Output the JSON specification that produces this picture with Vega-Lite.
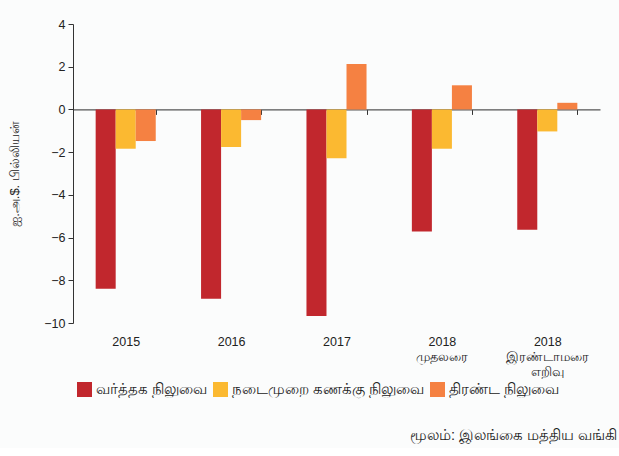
{
  "$schema": "https://vega.github.io/schema/vega-lite/v6.json",
  "width": 527,
  "height": 299,
  "padding": {"left": 8, "top": 18, "right": 5, "bottom": 5},
  "background": "#fbfcfc",
  "config": {
    "font": "Liberation Sans",
    "view": {"stroke": null}
  },
  "title": {
    "text": "மூலம்: இலங்கை மத்திய வங்கி",
    "orient": "bottom",
    "anchor": "end",
    "fontSize": 14.5,
    "fontWeight": "normal",
    "color": "#222222",
    "offset": 32,
    "dx": 17
  },
  "data": {
    "values": [
      {"period": "2015", "series": "வர்த்தக நிலுவை", "value": -8.40},
      {"period": "2015", "series": "நடைமுறை கணக்கு நிலுவை", "value": -1.84},
      {"period": "2015", "series": "திரண்ட நிலுவை", "value": -1.48},
      {"period": "2016", "series": "வர்த்தக நிலுவை", "value": -8.86},
      {"period": "2016", "series": "நடைமுறை கணக்கு நிலுவை", "value": -1.76},
      {"period": "2016", "series": "திரண்ட நிலுவை", "value": -0.50},
      {"period": "2017", "series": "வர்த்தக நிலுவை", "value": -9.67},
      {"period": "2017", "series": "நடைமுறை கணக்கு நிலுவை", "value": -2.29},
      {"period": "2017", "series": "திரண்ட நிலுவை", "value": 2.13},
      {"period": "2018 முதலரை", "series": "வர்த்தக நிலுவை", "value": -5.71},
      {"period": "2018 முதலரை", "series": "நடைமுறை கணக்கு நிலுவை", "value": -1.84},
      {"period": "2018 முதலரை", "series": "திரண்ட நிலுவை", "value": 1.13},
      {"period": "2018 இரண்டாமரை எறிவு", "series": "வர்த்தக நிலுவை", "value": -5.63},
      {"period": "2018 இரண்டாமரை எறிவு", "series": "நடைமுறை கணக்கு நிலுவை", "value": -1.03},
      {"period": "2018 இரண்டாமரை எறிவு", "series": "திரண்ட நிலுவை", "value": 0.31}
    ]
  },
  "mark": {"type": "bar"},
  "encoding": {
    "x": {
      "field": "period",
      "type": "nominal",
      "sort": null,
      "title": null,
      "scale": {"paddingInner": 0.43, "paddingOuter": 0.215},
      "axis": {
        "offset": -213.6,
        "domainColor": "#555555",
        "domainWidth": 1.2,
        "tickColor": "#333333",
        "tickSize": 5,
        "tickBand": "extent",
        "labelPadding": 221,
        "labelAngle": 0,
        "labelFontSize": 12.5,
        "labelColor": "#222222",
        "labelBaseline": "top",
        "labelExpr": "split(datum.label, ' ')",
        "labelLineHeight": 15
      }
    },
    "xOffset": {
      "field": "series",
      "type": "nominal",
      "sort": ["வர்த்தக நிலுவை", "நடைமுறை கணக்கு நிலுவை", "திரண்ட நிலுவை"],
      "scale": {"paddingInner": 0, "paddingOuter": 0}
    },
    "y": {
      "field": "value",
      "type": "quantitative",
      "scale": {"domain": [-10, 4], "nice": false, "zero": false},
      "axis": {
        "values": [-10, -8, -6, -4, -2, 0, 2, 4],
        "grid": false,
        "domainColor": "#333333",
        "tickColor": "#333333",
        "tickSize": 5,
        "labelFontSize": 12.5,
        "labelColor": "#222222",
        "labelPadding": 3,
        "title": "ஐ.அ.$. பில்லியன்",
        "titleFontSize": 13,
        "titleFontWeight": "normal",
        "titleColor": "#222222",
        "titlePadding": 22
      }
    },
    "color": {
      "field": "series",
      "type": "nominal",
      "sort": ["வர்த்தக நிலுவை", "நடைமுறை கணக்கு நிலுவை", "திரண்ட நிலுவை"],
      "scale": {
        "domain": ["வர்த்தக நிலுவை", "நடைமுறை கணக்கு நிலுவை", "திரண்ட நிலுவை"],
        "range": ["#c1272d", "#fbb931", "#f58142"]
      },
      "legend": {
        "title": null,
        "orient": "none",
        "legendX": 4,
        "legendY": 358,
        "direction": "horizontal",
        "symbolType": "square",
        "symbolSize": 225,
        "symbolStrokeWidth": 0,
        "labelFontSize": 14.5,
        "labelColor": "#222222",
        "labelOffset": 4,
        "columnPadding": 5,
        "labelLimit": 300
      }
    }
  }
}
